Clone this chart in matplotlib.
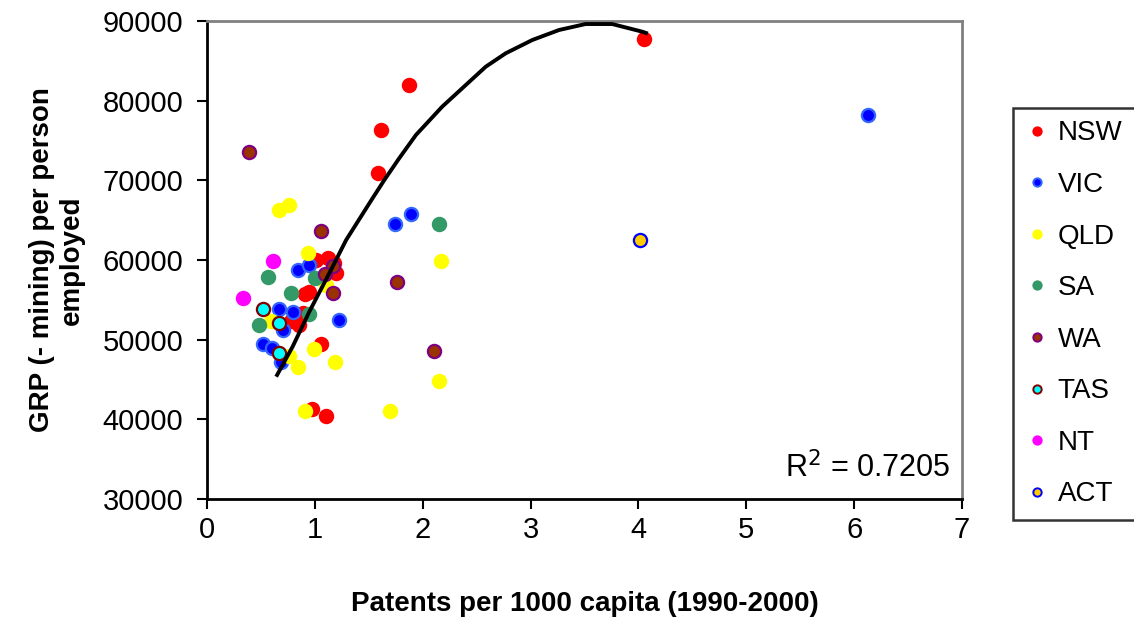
import matplotlib.pyplot as plt

# patents per 1000 capita (x) and GRP (- mining) per person employed (y), by state
nsw_x = [1.01, 1.12, 1.18, 1.196, 0.95, 0.91, 0.886, 0.856, 0.78, 0.856, 1.057, 0.974, 1.10, 1.613, 1.59, 1.869, 4.05]
nsw_y = [60000, 60210, 59590, 58330, 56030, 55740, 53350, 52710, 52380, 51840, 49460, 41340, 40460, 76320, 70960, 81970, 87740]
vic_x = [0.84, 0.95, 0.671, 0.80, 1.227, 0.70, 0.517, 0.606, 0.687, 1.745, 1.89, 6.125]
vic_y = [58750, 59310, 53810, 53520, 52440, 51210, 49460, 48920, 47240, 64520, 65740, 78200]
qld_x = [0.932, 1.104, 0.594, 0.671, 0.757, 0.764, 0.844, 0.995, 1.187, 0.909, 2.168, 2.153, 1.70]
qld_y = [60840, 56860, 52340, 66280, 66870, 47950, 46530, 48870, 47160, 41050, 59880, 44810, 41050]
sa_x = [0.563, 1.005, 0.78, 0.95, 0.48, 2.147]
sa_y = [57830, 57700, 55820, 53190, 51780, 64520]
wa_x = [0.394, 1.057, 1.165, 1.097, 1.165, 1.761, 2.106]
wa_y = [73520, 63680, 59290, 58210, 55820, 57280, 48580]
tas_x = [0.523, 0.671, 0.671]
tas_y = [53850, 52050, 48290]
nt_x = [0.61, 0.33]
nt_y = [59910, 55270]
act_x = [4.01]
act_y = [62510]

# polynomial trendline, points
trend_x = [0.65, 0.794, 0.949, 1.134, 1.29, 1.535, 1.644, 1.782, 1.937, 2.18, 2.585, 2.77, 3.017, 3.264, 3.51, 3.757, 4.035, 4.07]
trend_y = [45570, 49130, 53520, 58340, 62510, 67750, 70040, 72770, 75690, 79240, 84270, 85950, 87620, 88870, 89620, 89620, 88660, 88500]

r2_text = "R$^2$ = 0.7205"

plt.rcParams['font.family'] = ['Liberation Sans', 'DejaVu Sans']

fig = plt.figure(figsize=(11.34, 6.18), dpi=100)
ax = fig.add_axes([207 / 1134, 1 - 499 / 618, 755 / 1134, 478 / 618])

series = [
    ("NSW", nsw_x, nsw_y, "#FF0000", "#FF0000"),
    ("VIC", vic_x, vic_y, "#0000FF", "#3366FF"),
    ("QLD", qld_x, qld_y, "#FFFF00", "#FFFF00"),
    ("SA", sa_x, sa_y, "#339966", "#339966"),
    ("WA", wa_x, wa_y, "#993300", "#800080"),
    ("TAS", tas_x, tas_y, "#00FFFF", "#800000"),
    ("NT", nt_x, nt_y, "#FF00FF", "#FF00FF"),
    ("ACT", act_x, act_y, "#FFCC00", "#0000FF"),
]

handles = []
for name, xs, ys, face, edge in series:
    ax.plot(xs, ys, linestyle="none", marker="o", markersize=9.5,
            markerfacecolor=face, markeredgecolor=edge, markeredgewidth=1.6, zorder=3)
    h, = ax.plot([], [], linestyle="none", marker="o", markersize=6,
                 markerfacecolor=face, markeredgecolor=edge, markeredgewidth=1.4, label=name)
    handles.append(h)

ax.plot(trend_x, trend_y, color="black", linewidth=2.8, zorder=4, clip_on=False)

ax.set_xlim(0, 7)
ax.set_ylim(30000, 90000)
ax.set_xticks(range(0, 8))
ax.set_yticks(range(30000, 90001, 10000))
ax.tick_params(axis="both", labelsize=21, length=7, width=1.5, direction="out", colors="black")
ax.tick_params(axis="x", pad=5)
ax.tick_params(axis="y", pad=10)

for side in ["left", "bottom"]:
    ax.spines[side].set_color("black")
    ax.spines[side].set_linewidth(2)
for side in ["top", "right"]:
    ax.spines[side].set_color("#808080")
    ax.spines[side].set_linewidth(2)

ax.set_xlabel("Patents per 1000 capita (1990-2000)", fontsize=20, fontweight="bold", labelpad=34)
ax.set_ylabel("GRP (- mining) per person\nemployed", fontsize=20, fontweight="bold")
ax.yaxis.set_label_coords(-0.162, 0.5)

ax.text(0.984, 0.065, r2_text, transform=ax.transAxes, ha="right", va="center", fontsize=22)

leg = fig.legend(handles=handles, loc="upper left", bbox_to_anchor=(1013 / 1134, 1 - 108 / 618),
                 borderaxespad=0, fontsize=20, frameon=True, fancybox=False, edgecolor="black",
                 labelspacing=0.92, handletextpad=0.35, borderpad=0.45, handlelength=0.8)
leg.get_frame().set_linewidth(1.8)

fig.savefig("out.png", dpi=100)
